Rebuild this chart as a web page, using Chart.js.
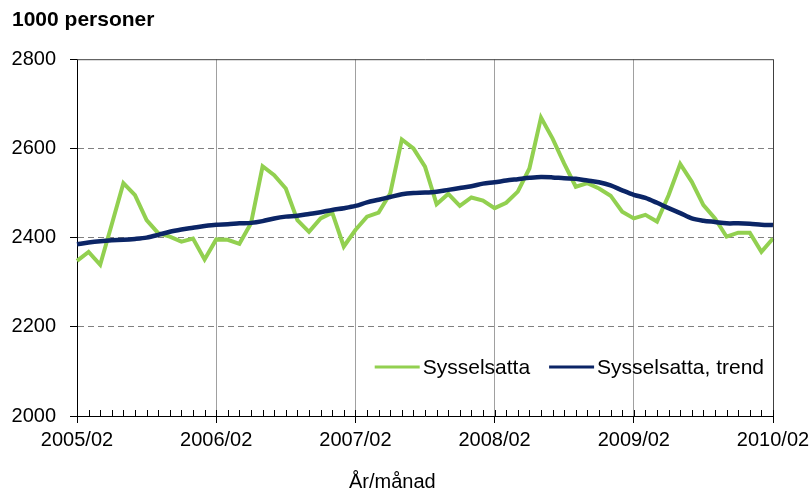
<!DOCTYPE html>
<html>
<head>
<meta charset="utf-8">
<script src="https://cdn.jsdelivr.net/npm/chart.js@4"></script>
<style>
  html, body { margin: 0; padding: 0; background: #fff; }
  #wrap { width: 811px; height: 493px; position: relative; }
</style>
</head>
<body>
<div id="wrap"><canvas id="chart"></canvas></div>
<script>
// månader 2005/02 - 2010/02
const months = [
  '2005/02','2005/03','2005/04','2005/05','2005/06','2005/07','2005/08','2005/09','2005/10','2005/11','2005/12','2006/01',
  '2006/02','2006/03','2006/04','2006/05','2006/06','2006/07','2006/08','2006/09','2006/10','2006/11','2006/12','2007/01',
  '2007/02','2007/03','2007/04','2007/05','2007/06','2007/07','2007/08','2007/09','2007/10','2007/11','2007/12','2008/01',
  '2008/02','2008/03','2008/04','2008/05','2008/06','2008/07','2008/08','2008/09','2008/10','2008/11','2008/12','2009/01',
  '2009/02','2009/03','2009/04','2009/05','2009/06','2009/07','2009/08','2009/09','2009/10','2009/11','2009/12','2010/01',
  '2010/02'
];

const sysselsatta = [
  2348, 2368, 2339, 2430, 2522, 2495, 2439, 2410, 2402, 2391, 2398, 2351,
  2396, 2395, 2386, 2432, 2560, 2540, 2510, 2439, 2413, 2443, 2456, 2380,
  2417, 2447, 2456, 2499, 2620, 2600, 2559, 2475, 2498, 2471, 2490, 2483,
  2466, 2478, 2503, 2555, 2669, 2622, 2566, 2514, 2522, 2510, 2494, 2458,
  2443, 2451, 2436, 2495, 2565, 2525, 2473, 2443, 2402, 2411, 2411, 2368,
  2398
];

const trend = [
  2385, 2389, 2392, 2394, 2395, 2397, 2400, 2406, 2413, 2418, 2422, 2426,
  2429, 2430, 2432, 2433, 2437, 2443, 2447, 2449, 2453, 2457, 2462, 2466,
  2471, 2479, 2485, 2491, 2497, 2500, 2501, 2503, 2507, 2511, 2515, 2521,
  2524, 2528, 2531, 2534, 2536, 2535, 2533, 2532, 2528, 2524, 2517, 2506,
  2496, 2489, 2478, 2466, 2455, 2443, 2438, 2435, 2432, 2432, 2431, 2429,
  2428
];

const yTicks = [2000, 2200, 2400, 2600, 2800];

const xTitle = 'År/månad';

const FONT = "'Liberation Sans', Arial, sans-serif";

// ram, inre månadsstreck, axeltitel och förklaring
const extras = {
  id: 'extras',
  afterDraw(chart) {
    const { ctx, chartArea: a, scales } = chart;
    ctx.save();
    // topp- och högerkant
    ctx.strokeStyle = '#404040';
    ctx.lineWidth = 1;
    ctx.beginPath();
    ctx.moveTo(a.left, a.top + 0.5);
    ctx.lineTo(a.right + 0.5, a.top + 0.5);
    ctx.lineTo(a.right + 0.5, a.bottom);
    ctx.stroke();

    // små streck för varje månad
    ctx.strokeStyle = '#000';
    ctx.beginPath();
    for (let i = 0; i < months.length; i++) {
      const x = Math.round(scales.x.getPixelForValue(i)) + 0.5;
      ctx.moveTo(x, a.bottom);
      ctx.lineTo(x, a.bottom - 6);
    }
    ctx.stroke();

    // x-axelns titel (lite vänster om mitten som i originalet)
    ctx.font = '20px ' + FONT;
    ctx.fillStyle = '#000';
    ctx.textAlign = 'center';
    ctx.textBaseline = 'middle';
    ctx.fillText(xTitle, a.left + (a.right - a.left) * 0.453, a.bottom + 66);

    // förklaring
    ctx.font = '21px ' + FONT;
    ctx.textAlign = 'left';
    const ds = chart.data.datasets;
    const lineLen = 45, gap = 3, between = 19;
    let total = 0;
    ds.forEach((d, i) => {
      total += lineLen + gap + ctx.measureText(d.label).width;
      if (i < ds.length - 1) total += between;
    });
    let x = a.right - 9 - total;
    const y = a.bottom - 49;
    ds.forEach(d => {
      ctx.strokeStyle = d.borderColor;
      ctx.lineWidth = 3;
      ctx.beginPath();
      ctx.moveTo(x, y);
      ctx.lineTo(x + lineLen, y);
      ctx.stroke();
      x += lineLen + gap;
      ctx.fillText(d.label, x, y + 1);
      x += ctx.measureText(d.label).width + between;
    });
    ctx.restore();
  }
};

new Chart(document.getElementById('chart'), {
  type: 'line',
  data: {
    labels: months,
    datasets: [
      {
        label: 'Sysselsatta',
        data: sysselsatta,
        borderColor: '#92d050',
        borderWidth: 4,
        pointRadius: 0,
        tension: 0,
        order: 2
      },
      {
        label: 'Sysselsatta, trend',
        data: trend,
        borderColor: '#0b2566',
        borderWidth: 4.5,
        pointRadius: 0,
        tension: 0.3,
        order: 1
      }
    ]
  },
  options: {
    responsive: true,
    maintainAspectRatio: false,
    animation: false,
    layout: { padding: { left: 12, right: 38, top: 0, bottom: 36 } },
    plugins: {
      legend: { display: false },
      tooltip: { enabled: false },
      title: {
        display: true,
        text: '1000 personer',
        align: 'start',
        color: '#000',
        font: { family: FONT, size: 21, weight: 'bold' },
        padding: { top: 8, bottom: 26 }
      }
    },
    scales: {
      x: {
        type: 'category',
        offset: false,
        afterFit: s => { s.paddingLeft = 0; s.paddingRight = 0; },
        grid: {
          color: c => (c.index % 12 === 0 ? '#a0a0a0' : 'rgba(0,0,0,0)'),
          tickColor: c => (c.index % 12 === 0 ? '#000' : 'rgba(0,0,0,0)'),
          tickLength: 7,
          lineWidth: 1
        },
        border: { color: '#000', width: 1 },
        ticks: {
          autoSkip: false,
          maxRotation: 0,
          minRotation: 0,
          padding: 5,
          color: '#000',
          font: { family: FONT, size: 20 },
          callback: (v, i) => (i % 12 === 0 ? months[i] : '')
        },
        title: { display: false }
      },
      y: {
        min: 2000,
        max: 2800,
        afterBuildTicks: s => { s.ticks = yTicks.map(v => ({ value: v })); },
        afterFit: s => { s.width = 65; },
        grid: {
          color: c => (c.tick && (c.tick.value === 2000 || c.tick.value === 2800) ? 'rgba(0,0,0,0)' : '#808080'),
          tickColor: '#000',
          tickLength: 7,
          tickBorderDash: [],
          lineWidth: 1
        },
        border: {
          color: '#000',
          width: 1,
          dash: c => (c.tick ? [6, 4] : [])
        },
        ticks: {
          padding: 14,
          color: '#000',
          font: { family: FONT, size: 20 },
          callback: v => String(v)
        }
      }
    }
  },
  plugins: [extras]
});
</script>
</body>
</html>
